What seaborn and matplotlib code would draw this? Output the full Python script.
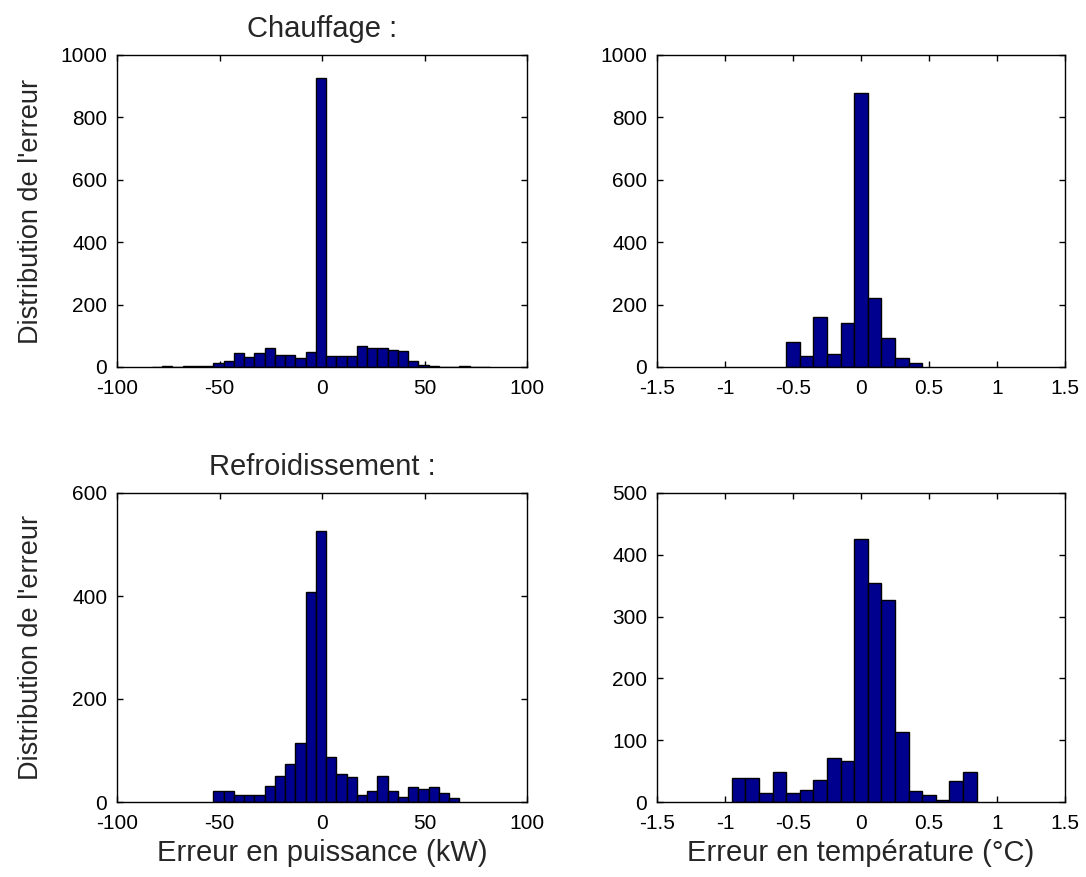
import numpy as np
import pandas as pd
import matplotlib
matplotlib.use("Agg")
import matplotlib.pyplot as plt
import seaborn as sns
from matplotlib.ticker import FuncFormatter

# ---------------- data ----------------
# Chauffage - power error (kW): 33 bins of width 5 starting at -83
heat_power_start = -83
heat_power_width = 5
heat_power_counts = [1, 2, 1, 2, 2, 3,
                     12, 20, 44, 32, 44, 61, 37, 37, 29, 49,
                     925,
                     35, 35, 35, 66, 61, 61, 56, 51, 19, 6, 2, 0, 1, 2, 1, 1]

# Chauffage - temperature error (°C): 10 bins of width 0.1 starting at -0.55
heat_temp_start = -0.55
heat_temp_width = 0.1
heat_temp_counts = [80, 36, 160, 42, 142, 877, 221, 92, 30, 12]

# Refroidissement - power error (kW): 24 bins of width 5 starting at -53
cool_power_start = -53
cool_power_width = 5
cool_power_counts = [21, 21, 13, 13, 13, 32, 51, 73, 115, 408, 527, 88,
                     55, 48, 13, 21, 51, 21, 10, 29, 25, 29, 17, 7]

# Refroidissement - temperature error (°C): 18 bins of width 0.1 starting at -0.95
cool_temp_start = -0.95
cool_temp_width = 0.1
cool_temp_counts = [39, 39, 15, 48, 15, 20, 36, 72, 67, 425, 355, 327,
                    113, 18, 11, 3, 34, 48]

titles = ["Chauffage :", "Refroidissement :"]
ylabel = "Distribution de l'erreur"
xlabels = ["Erreur en puissance (kW)", "Erreur en température (°C)"]
power_xticks = [-100, -50, 0, 50, 100]
temp_xticks = [-1.5, -1, -0.5, 0, 0.5, 1, 1.5]
heat_yticks = [0, 200, 400, 600, 800, 1000]
cool_power_yticks = [0, 200, 400, 600]
cool_temp_yticks = [0, 100, 200, 300, 400, 500]

# ---------------- style ----------------
sns.set_style("ticks")
plt.rcParams["font.family"] = ["Liberation Sans", "DejaVu Sans"]
plt.rcParams["axes.unicode_minus"] = False

BAR = "#00008F"
TICK_FS = 15
TITLE_FS = 21
XLABEL_FS = 21
YLABEL_FS = 19.5

fig = plt.figure(figsize=(10.86, 8.77), dpi=100)
W, H = 1086, 877


def add_ax(x0, x1, ytop, ybot):
    return fig.add_axes([x0 / W, (H - ybot) / H, (x1 - x0) / W, (ybot - ytop) / H])


ax_tl = add_ax(117, 527, 55, 367)
ax_tr = add_ax(657, 1065, 55, 367)
ax_bl = add_ax(117, 527, 493, 802)
ax_br = add_ax(657, 1065, 493, 802)


def hist(ax, start, width, counts, xlim, xticks, ylim, yticks):
    counts = [float(c) for c in counts]
    edges = [start + width * i for i in range(len(counts) + 1)]
    centers = [(edges[i] + edges[i + 1]) / 2 for i in range(len(counts))]
    df = pd.DataFrame({"x": centers, "n": counts})
    sns.histplot(data=df, x="x", weights="n", bins=edges, ax=ax,
                 color=BAR, alpha=1.0, edgecolor="black", linewidth=1.0)
    ax.set_xlim(*xlim)
    ax.set_ylim(*ylim)
    ax.set_xticks(xticks)
    ax.set_yticks(yticks)
    ax.xaxis.set_major_formatter(FuncFormatter(lambda v, p: "%g" % v))
    ax.yaxis.set_major_formatter(FuncFormatter(lambda v, p: "%g" % v))
    ax.tick_params(direction="in", top=True, right=True, length=4, width=1,
                   labelsize=TICK_FS, colors="black")
    ax.tick_params(axis="x", pad=8.5)
    ax.tick_params(axis="y", pad=7)
    for s in ax.spines.values():
        s.set_visible(True)
        s.set_linewidth(1.0)
        s.set_color("black")
    ax.set_xlabel("")
    ax.set_ylabel("")


hist(ax_tl, heat_power_start, heat_power_width, heat_power_counts,
     (-100, 100), power_xticks, (0, 1000), heat_yticks)
hist(ax_tr, heat_temp_start, heat_temp_width, heat_temp_counts,
     (-1.5, 1.5), temp_xticks, (0, 1000), heat_yticks)
hist(ax_bl, cool_power_start, cool_power_width, cool_power_counts,
     (-100, 100), power_xticks, (0, 600), cool_power_yticks)
hist(ax_br, cool_temp_start, cool_temp_width, cool_temp_counts,
     (-1.5, 1.5), temp_xticks, (0, 500), cool_temp_yticks)

ax_tl.set_title(titles[0], fontsize=TITLE_FS, pad=13)
ax_bl.set_title(titles[1], fontsize=TITLE_FS, pad=13)

for ax in (ax_tl, ax_bl):
    ax.set_ylabel(ylabel, fontsize=YLABEL_FS)
    ax.yaxis.set_label_coords(-0.178, 0.5)

ax_bl.set_xlabel(xlabels[0], fontsize=XLABEL_FS)
ax_br.set_xlabel(xlabels[1], fontsize=XLABEL_FS)
for ax in (ax_bl, ax_br):
    ax.xaxis.set_label_coords(0.5, -0.12)
    ax.xaxis.label.set_va("top")

fig.savefig("out.png", dpi=100, facecolor="white")
